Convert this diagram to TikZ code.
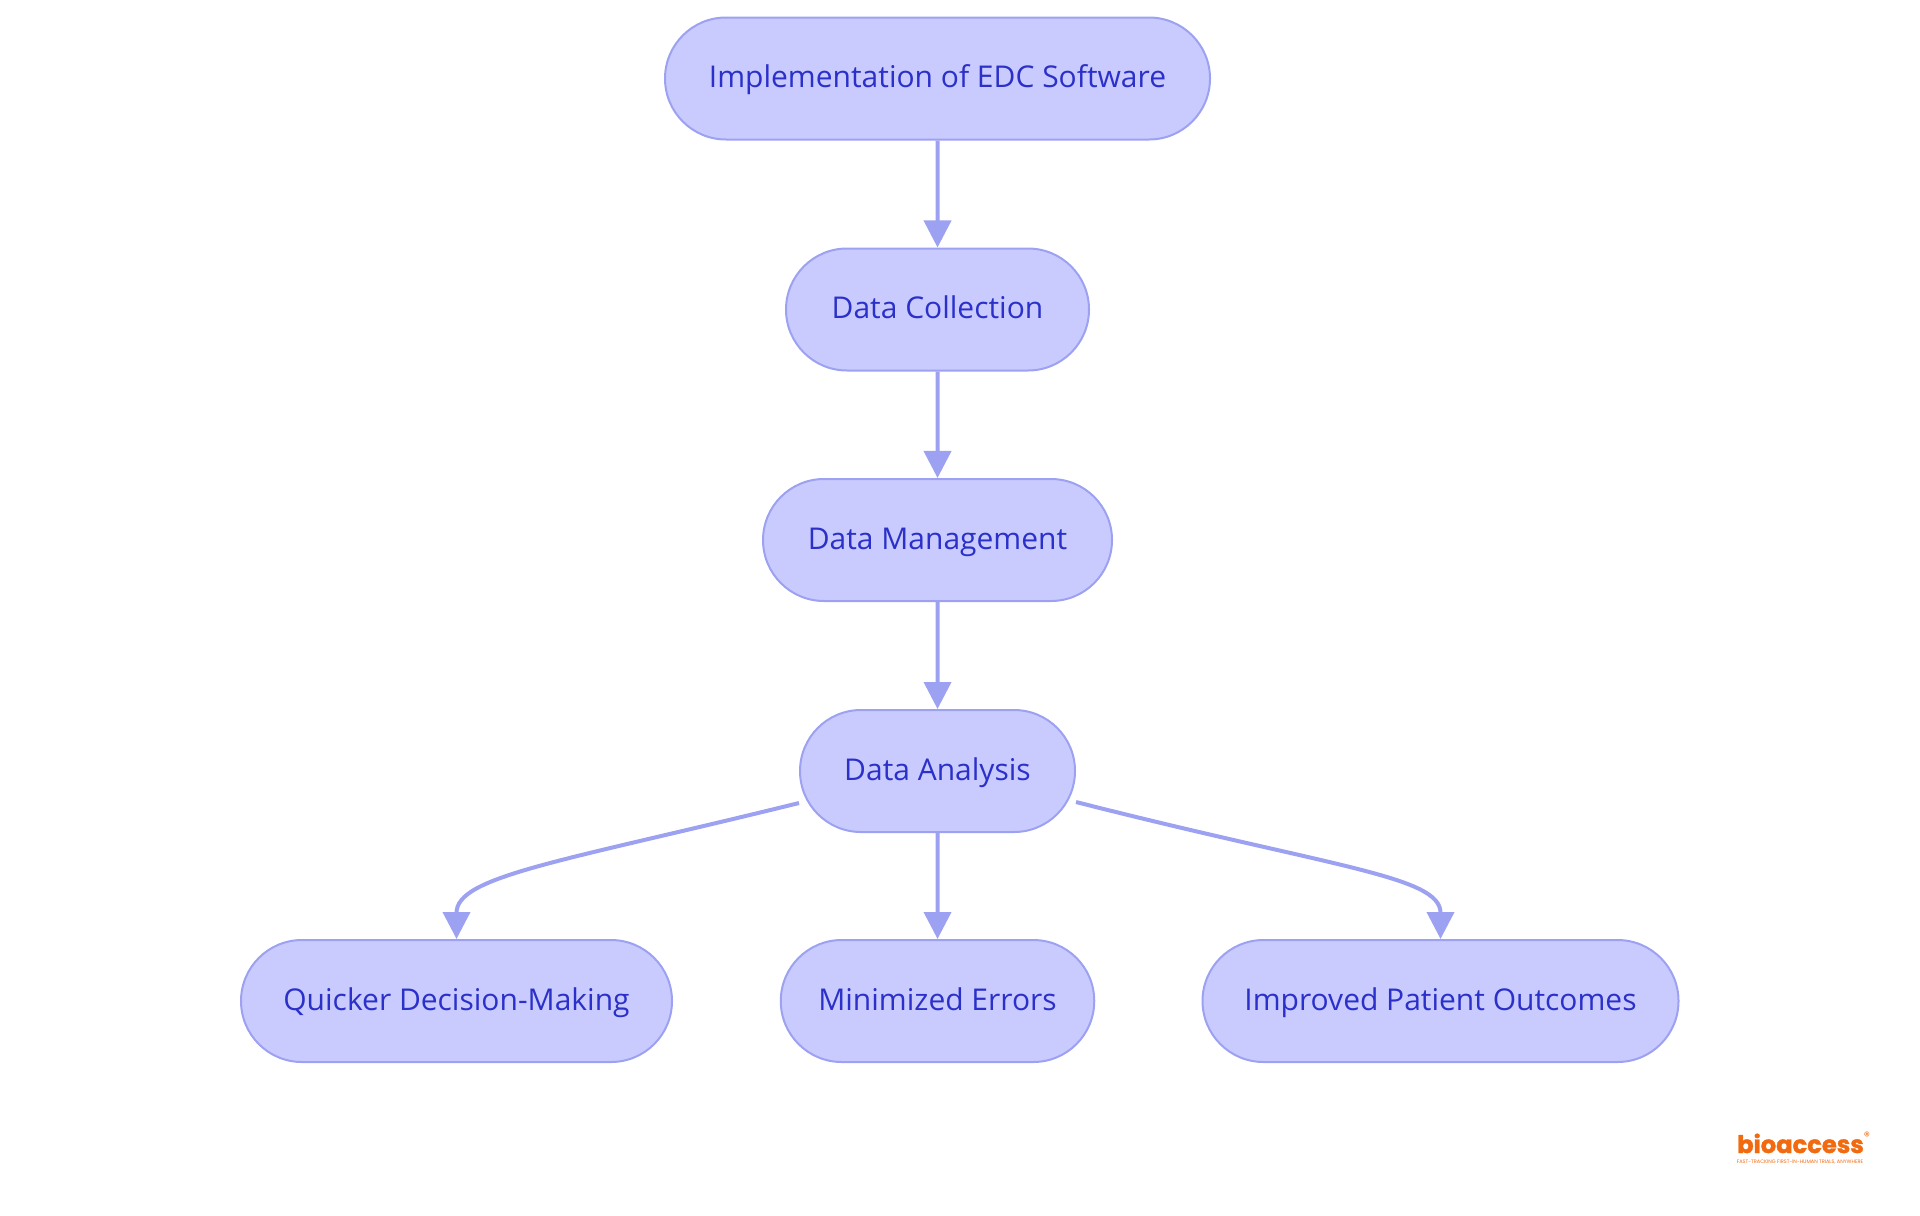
\documentclass[tikz,border=0pt]{standalone}
\usepackage{fontspec}
\setmainfont{Open Sans}
\newfontfamily\logofont[BoldFeatures={FakeBold=1.5}]{Poppins}
\usetikzlibrary{arrows.meta,shapes.misc}
\definecolor{boxfill}{HTML}{C9CBFE}
\definecolor{boxline}{HTML}{9CA1F2}
\definecolor{boxtext}{HTML}{2B30C9}
\definecolor{logoorange}{HTML}{F26A0F}
\tikzset{
	stepnode/.style={shape=rounded rectangle, draw=boxline, fill=boxfill, line width=1pt,
		text=boxtext, font=\fontsize{15}{18}\selectfont, minimum height=61pt, inner sep=0pt,
		text height=11.5pt, text depth=2.5pt},
	flow/.style={draw=boxline, line width=2pt, -{Triangle[length=13.5pt,width=13.5pt]}},
	logotext/.style={text=logoorange, inner sep=0pt}
}
\begin{document}
\begin{tikzpicture}[x=0.5pt,y=-0.5pt]
	\useasboundingbox (0,0) rectangle (1920,1215);
	%\draw[help lines] (0,0) grid (1920,1215);
	\node[stepnode, minimum width=272.5pt] (edc) at (937.5,78.5) {Implementation of EDC Software};
	\node[stepnode, minimum width=151.5pt] (collection) at (937.5,309.5) {Data Collection};
	\node[stepnode, minimum width=174.5pt] (management) at (937.5,540) {Data Management};
	\node[stepnode, minimum width=137.5pt] (analysis) at (937.5,771) {Data Analysis};
	\node[stepnode, minimum width=215.5pt] (quicker) at (456.5,1001) {Quicker Decision-Making};
	\node[stepnode, minimum width=156.75pt] (errors) at (937.5,1001) {Minimized Errors};
	\node[stepnode, minimum width=238pt] (outcomes) at (1440.5,1001) {Improved Patient Outcomes};

	\coordinate (leftout) at ([yshift=-16pt]analysis.west);
	\coordinate (rightout) at ([yshift=-15.5pt]analysis.east);

	\draw[flow] (edc) -- (collection);
	\draw[flow] (collection) -- (management);
	\draw[flow] (management) -- (analysis);
	\draw[flow] (analysis) -- (errors);
	\draw[flow] (leftout) .. controls (560,862) and (456.5,876) .. (quicker.north);
	\draw[flow] (rightout) .. controls (1335,868) and (1440.5,876) .. (outcomes.north);

	% logo
	\node[logotext, font=\logofont\bfseries\fontsize{12.1}{12.1}\selectfont, anchor=base] (logo) at (1800.5,1153) {bioaccess};
	\node[logotext, font=\logofont\fontsize{6}{6}\selectfont, anchor=west] (mark) at (1863.5,1136) {®};
	\node[logotext, font=\logofont\fontsize{2.5}{2.5}\selectfont] (tagline) at (1800,1162) {FAST-TRACKING FIRST-IN-HUMAN TRIALS, ANYWHERE};
\end{tikzpicture}
\end{document}
